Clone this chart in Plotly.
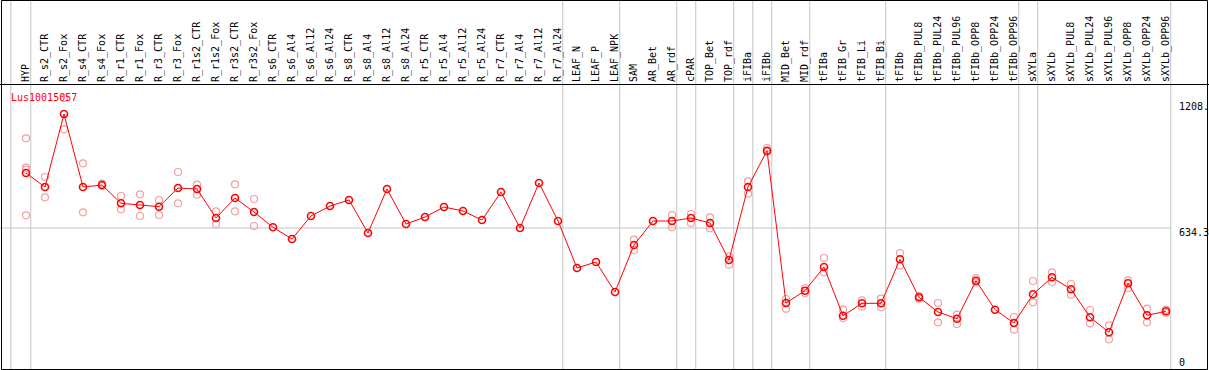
import plotly.graph_objects as go

categories = [
    "HYP", "R_s2_CTR", "R_s2_Fox", "R_s4_CTR", "R_s4_Fox", "R_r1_CTR", "R_r1_Fox",
    "R_r3_CTR", "R_r3_Fox", "R_r1s2_CTR", "R_r1s2_Fox", "R_r3s2_CTR", "R_r3s2_Fox",
    "R_s6_CTR", "R_s6_Al4", "R_s6_Al12", "R_s6_Al24", "R_s8_CTR", "R_s8_Al4",
    "R_s8_Al12", "R_s8_Al24", "R_r5_CTR", "R_r5_Al4", "R_r5_Al12", "R_r5_Al24",
    "R_r7_CTR", "R_r7_Al4", "R_r7_Al12", "R_r7_Al24", "LEAF_N", "LEAF_P", "LEAF_NPK",
    "SAM", "AR_Bet", "AR_rdf", "cPAR", "TOP_Bet", "TOP_rdf", "iFIBa", "iFIBb",
    "MID_Bet", "MID_rdf", "tFIBa", "tFIB_Gr", "tFIB_Li", "tFIB_Bi", "tFIBb",
    "tFIBb_PUL8", "tFIBb_PUL24", "tFIBb_PUL96", "tFIBb_OPP8", "tFIBb_OPP24",
    "tFIBb_OPP96", "sXYLa", "sXYLb", "sXYLb_PUL8", "sXYLb_PUL24", "sXYLb_PUL96",
    "sXYLb_OPP8", "sXYLb_OPP24", "sXYLb_OPP96",
]

mean_values = [
    885.3, 821.4, 1154.5, 821.4, 830.5, 747.0, 739.3, 731.5, 816.8, 812.3,
    679.9, 771.2, 707.3, 637.5, 584.1, 689.1, 734.7, 762.1, 611.5, 812.3,
    652.6, 684.5, 730.1, 711.9, 670.8, 798.6, 634.3, 839.6, 666.2, 451.8,
    479.1, 342.2, 556.7, 666.2, 666.2, 679.9, 657.1, 488.3, 821.4, 987.0,
    292.1, 348.2, 456.3, 234.1, 290.7, 290.7, 491.5, 318.1, 251.0, 220.4,
    393.8, 261.5, 200.8, 331.7, 409.3, 354.6, 226.8, 158.3, 381.9, 235.9,
    254.2,
]

rep1 = [
    1043.6, 867.0, 1227.5, 929.5, 836.5, 780.3, 788.1, 762.1, 889.8, 831.9,
    710.5, 833.7, 766.6, None, None, None, None, None, None, None,
    None, None, None, None, None, None, None, None, None, None,
    None, None, 580.9, None, 693.6, 698.2, 683.1, 505.2, 847.4, 999.4,
    310.3, 360.5, 497.4, 261.5, 304.4, 311.7, 520.2, 324.0, 292.1, 238.7,
    404.8, None, 228.2, 392.4, 432.1, 378.8, 260.1, 190.3, 395.6, 266.0,
    261.5,
]

rep2 = [
    909.5, 774.4, 1084.7, 705.9, 826.0, 719.6, 689.1, 693.6, 747.0, 786.3,
    652.6, 710.5, 643.4, None, None, None, None, None, None, None,
    None, None, None, None, None, None, None, None, None, None,
    None, None, 533.9, None, 637.5, 657.1, 632.9, 466.8, 790.8, 981.1,
    266.0, 337.7, 432.1, 223.6, 275.2, 272.4, 462.3, 311.7, 204.0, 196.2,
    386.5, None, 170.2, 295.2, 387.9, 329.9, 199.4, 126.4, 360.5, 204.0,
    246.4,
]

# extra replicates only present for HYP
extra_rep_categories = ["HYP", "HYP"]
extra_rep_values = [900.3, 692.3]

gene_label = "Lus10015057"
scale_labels = ["1208.", "634.3", "0"]
scale_values = [1208.0, 634.3, 0.0]
scale_shift = [-4.7, -4.3, 5.0]

# last category of each group (separator lines drawn after them)
group_ends = ["HYP", "R_r7_Al24", "LEAF_NPK", "AR_rdf", "cPAR", "TOP_rdf", "iFIBa",
              "iFIBb", "MID_rdf", "tFIB_Bi", "tFIBb_OPP96", "sXYLa", "sXYLb_OPP96"]

W, H = 1209, 370
TOP = 85
FONT = "DejaVu Sans Mono"
RED = "#ff0000"
PINK = "#f2a0a0"
GRAY = "#c4c4c4"

xs = list(range(len(categories)))
idx = {c: i for i, c in enumerate(categories)}

rep_x, rep_y = [], []
for i in xs:
    for r in (rep1, rep2):
        if r[i] is not None:
            rep_x.append(i)
            rep_y.append(r[i])
for c, v in zip(extra_rep_categories, extra_rep_values):
    rep_x.append(idx[c])
    rep_y.append(v)

fig = go.Figure()
fig.add_trace(go.Scatter(
    x=rep_x, y=rep_y, mode="markers",
    marker=dict(symbol="circle-open", size=7, color=PINK, line=dict(width=1.2, color=PINK)),
    hoverinfo="skip", cliponaxis=False,
))
fig.add_trace(go.Scatter(
    x=xs, y=mean_values, mode="lines+markers",
    line=dict(color=RED, width=1),
    marker=dict(symbol="circle-open", size=7, color=RED, line=dict(width=1.6, color=RED)),
    cliponaxis=False,
))

x_min = -26 / 19
x_max = (W - 26) / 19
y_px_per_unit = 139 / 634.3
y_max = (367 - TOP) / y_px_per_unit
y_min = -(H - 367) / y_px_per_unit

shapes = []
sep_positions = [-0.8] + [idx[c] + 0.25 for c in group_ends]
for p in sep_positions:
    shapes.append(dict(type="line", xref="x", yref="paper", x0=p, x1=p,
                       y0=0, y1=H / (H - TOP), line=dict(color=GRAY, width=1), layer="below"))
shapes.append(dict(type="line", xref="x", yref="y", x0=x_min, x1=idx["sXYLb_OPP96"] + 0.25,
                   y0=634.3, y1=634.3, line=dict(color=GRAY, width=1), layer="below"))
ph = H - TOP
shapes.append(dict(type="rect", xref="paper", yref="paper",
                   x0=1.5 / W, x1=1207.5 / W, y0=(H - 369.5) / ph, y1=(H - 0.5) / ph,
                   line=dict(color="black", width=1), fillcolor="rgba(0,0,0,0)", layer="above"))

annotations = [dict(text=gene_label, xref="paper", yref="paper", x=9 / W, y=(H - 97) / ph,
                    xanchor="left", yanchor="middle", showarrow=False,
                    font=dict(family=FONT, size=10, color=RED))]
for t, v, s in zip(scale_labels, scale_values, scale_shift):
    annotations.append(dict(text=t, xref="paper", yref="y", x=1177 / W, y=v, yshift=s,
                            xanchor="left", yanchor="middle", showarrow=False,
                            font=dict(family=FONT, size=10, color="black")))

fig.update_layout(
    width=W, height=H,
    margin=dict(l=0, r=0, t=TOP, b=0, pad=0),
    paper_bgcolor="white", plot_bgcolor="white",
    showlegend=False,
    shapes=shapes, annotations=annotations,
    xaxis=dict(
        range=[x_min, x_max], side="top", tickmode="array", tickvals=xs, ticktext=categories,
        tickangle=-90, tickfont=dict(family=FONT, size=10, color="black"),
        showgrid=False, zeroline=False, showline=True, linecolor="black", linewidth=1,
        ticks="", automargin=False, fixedrange=True,
    ),
    yaxis=dict(
        range=[y_min, y_max], showgrid=False, zeroline=False, showticklabels=False,
        showline=False, automargin=False, fixedrange=True,
    ),
)

fig.write_html(
    "out.html",
    config={"displayModeBar": False},
    post_script="document.body.style.margin='0px';document.body.style.overflow='hidden';",
)
